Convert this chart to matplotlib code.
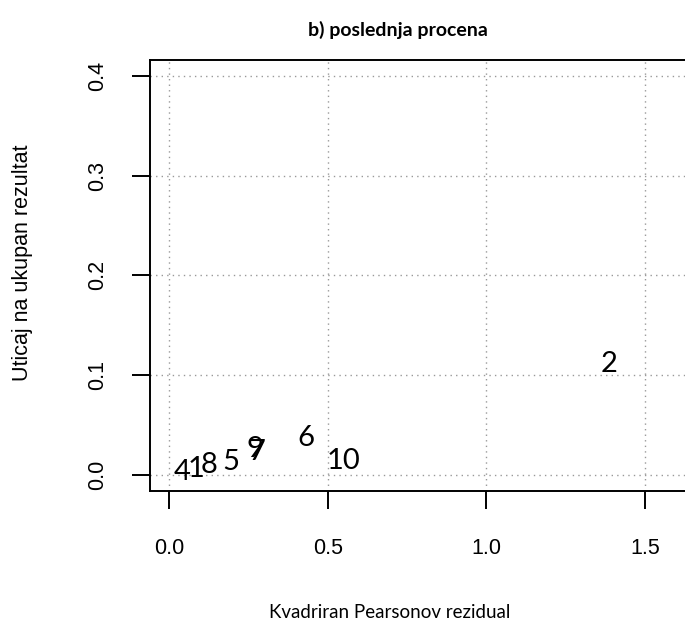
import matplotlib.pyplot as plt

# squared Pearson residual vs. influence on the overall result
labels = ["4", "1", "8", "5", "9", "7", "6", "10", "2"]
resid2 = [0.041, 0.085, 0.126, 0.195, 0.271, 0.275, 0.432, 0.551, 1.386]
influence = [0.003, 0.006, 0.010, 0.013, 0.026, 0.023, 0.037, 0.014, 0.111]

xticks = [0.0, 0.5, 1.0, 1.5]
yticks = [0.0, 0.1, 0.2, 0.3, 0.4]

W, H = 685, 628
fig = plt.figure(figsize=(W / 100, H / 100), dpi=100)

# plot box runs off the right edge, so only left/top/bottom show
x0, x1 = -0.06, 1.70
y0, y1 = -0.0157, 0.4157
ax = fig.add_axes([150 / W, (H - 490.7) / H, 558.6 / W, 430.7 / H])
ax.set_xlim(x0, x1)
ax.set_ylim(y0, y1)

for s in ax.spines.values():
    s.set_linewidth(1.4)
ax.spines["right"].set_visible(False)

ax.set_xticks(xticks)
ax.set_yticks(yticks)
ax.set_xticklabels(["%.1f" % v for v in xticks])
ax.set_yticklabels(["%.1f" % v for v in yticks], rotation=90, va="center")
ax.tick_params(length=13, width=1.4, labelsize=15.5)
ax.tick_params(axis="x", pad=21)
ax.tick_params(axis="y", pad=17)
for t in ax.get_xticklabels() + ax.get_yticklabels():
    t.set_fontfamily("Liberation Sans")

ax.grid(True, color="#999999", linestyle=(0, (1, 3)), linewidth=1.0)

for lab, xv, yv in zip(labels, resid2, influence):
    ax.text(xv, yv, lab, ha="center", va="center", fontsize=21,
            fontfamily="Lato", clip_on=False)

fig.text(398 / W, 1 - 30 / H, "b) poslednja procena", ha="center", va="center",
         fontsize=14, fontweight="bold", fontfamily="Lato")
fig.text(390 / W, 1 - 612 / H, "Kvadriran Pearsonov rezidual", ha="center",
         va="center", fontsize=13.5, fontfamily="Lato")
fig.text(23 / W, 1 - 263 / H, "Uticaj na ukupan rezultat", ha="center",
         va="center", rotation=90, fontsize=15.5, fontfamily="Liberation Sans")

fig.savefig("out.png", dpi=100)
